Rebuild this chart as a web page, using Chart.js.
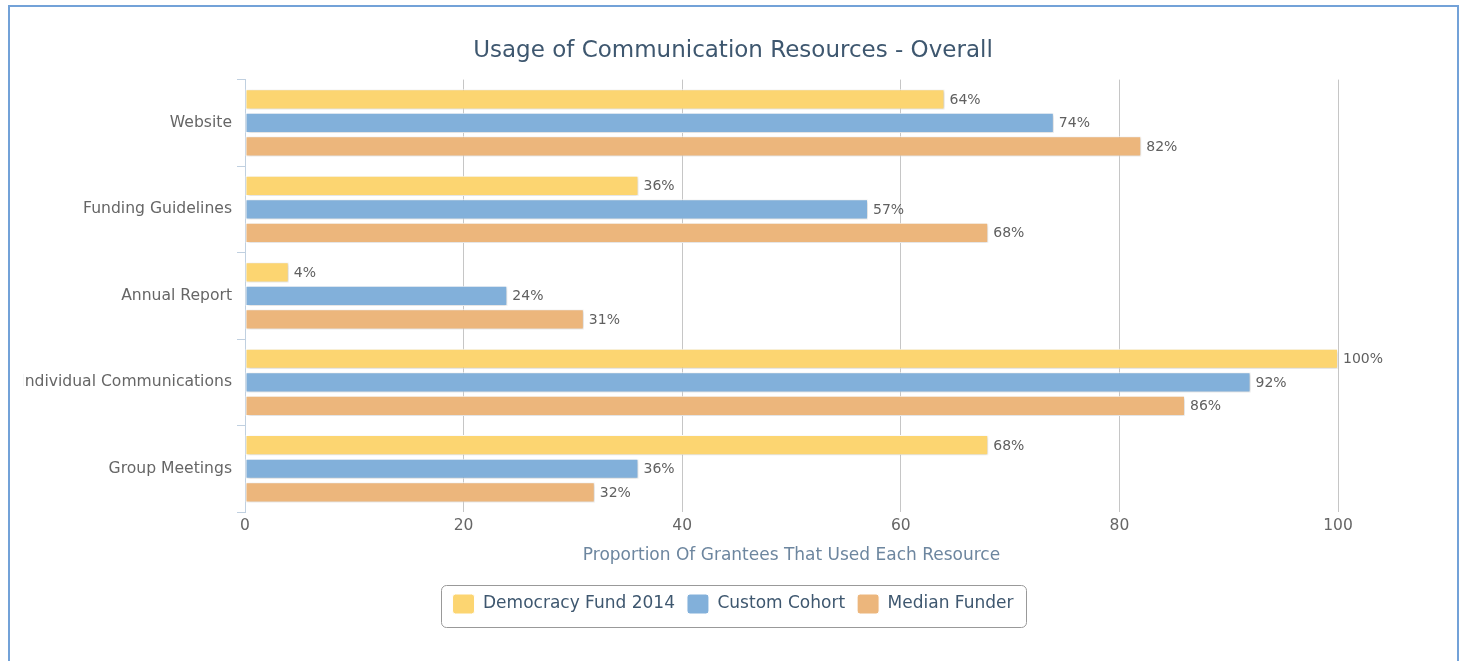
<!DOCTYPE html>
<html>
<head>
<meta charset="utf-8">
<script src="https://cdn.jsdelivr.net/npm/chart.js@4.4.1/dist/chart.umd.min.js"></script>
<style>
  html, body { margin: 0; padding: 0; background: #fff; }
  .frame {
    position: absolute; left: 8px; top: 5px; width: 1447px; height: 700px;
    border: 2px solid #73a2d8;
  }
  .wrap { position: absolute; left: 23px; top: 10px; width: 1420px; height: 624px; }
</style>
</head>
<body>
<div class="frame"></div>
<div class="wrap"><canvas id="chart"></canvas></div>
<script>
const categories = ['Website', 'Funding Guidelines', 'Annual Report', 'Individual Communications', 'Group Meetings'];
const seriesNames = ['Democracy Fund 2014', 'Custom Cohort', 'Median Funder'];
const democracyFund = [64, 36, 4, 100, 68];
const customCohort = [74, 57, 24, 92, 36];
const medianFunder = [82, 68, 31, 86, 32];
const xTicks = [0, 20, 40, 60, 80, 100];

const colors = ['#fcd571', '#82b0da', '#ecb67c'];
const FONT = "'DejaVu Sans', Verdana, sans-serif";

// highcharts-like soft shadow under bars, value labels, legend frame
const barExtras = {
  id: 'barExtras',
  beforeDatasetsDraw(chart) {
    const ctx = chart.ctx;
    ctx.save();
    ctx.shadowColor = 'rgba(0,0,0,0.22)';
    ctx.shadowBlur = 3;
    ctx.shadowOffsetX = 1;
    ctx.shadowOffsetY = 1;
  },
  afterDatasetsDraw(chart) {
    const ctx = chart.ctx;
    ctx.restore();
    ctx.save();
    ctx.font = '14px ' + FONT;
    ctx.fillStyle = '#606060';
    ctx.textAlign = 'left';
    ctx.textBaseline = 'middle';
    chart.data.datasets.forEach((ds, i) => {
      chart.getDatasetMeta(i).data.forEach((bar, j) => {
        ctx.fillText(ds.data[j] + '%', bar.x + 5, bar.y + 1);
      });
    });
    ctx.restore();
  },
  afterDraw(chart) {
    const boxes = chart.legend && chart.legend.legendHitBoxes;
    if (!boxes || !boxes.length) return;
    const first = boxes[0];
    const last = boxes[boxes.length - 1];
    const cy = first.top + first.height / 2;
    const ctx = chart.ctx;
    ctx.save();
    ctx.strokeStyle = '#999';
    ctx.lineWidth = 1;
    ctx.beginPath();
    ctx.roundRect(Math.round(first.left - 12) + 0.5, Math.round(cy - 19.5) + 0.5,
      Math.round(last.left + last.width - first.left + 24), 42, 5);
    ctx.stroke();
    ctx.restore();
  }
};

new Chart(document.getElementById('chart'), {
  type: 'bar',
  data: {
    labels: categories,
    datasets: [
      { label: seriesNames[0], data: democracyFund },
      { label: seriesNames[1], data: customCohort },
      { label: seriesNames[2], data: medianFunder },
    ].map((d, i) => ({
      ...d,
      backgroundColor: colors[i],
      borderColor: '#ffffff',
      borderWidth: 1,
      borderSkipped: false,
      categoryPercentage: 0.816,
      barPercentage: 0.86,
    })),
  },
  options: {
    indexAxis: 'y',
    responsive: true,
    maintainAspectRatio: false,
    animation: false,
    layout: { padding: { left: 0, right: 0, top: 0, bottom: 10 } },
    scales: {
      x: {
        min: 0,
        max: 100,
        afterBuildTicks: (axis) => { axis.ticks = xTicks.map((v) => ({ value: v })); },
        afterFit: (axis) => { axis.height = 70; },
        grid: {
          drawTicks: false,
          color: (c) => (c.tick && c.tick.value === 0 ? 'rgba(0,0,0,0)' : '#c6c6c6'),
        },
        border: { display: false },
        ticks: { color: '#666', padding: 5, font: { family: FONT, size: 15.5 } },
        title: {
          display: true,
          text: 'Proportion Of Grantees That Used Each Resource',
          color: '#6d869f',
          font: { family: FONT, size: 17 },
          padding: { top: 0, bottom: 16 },
        },
      },
      y: {
        offset: true,
        afterFit: (axis) => { axis.width = 222; },
        grid: {
          offset: true,
          drawOnChartArea: false,
          drawTicks: true,
          tickLength: 8,
          color: '#c0d0e0',
        },
        border: { display: true, color: '#c0d0e0' },
        ticks: { color: '#666', padding: 5, font: { family: FONT, size: 15.6 } },
      },
      // empty right-hand axis, keeps the plot narrower than the centred title/legend
      spacer: {
        type: 'category',
        position: 'right',
        afterFit: (axis) => { axis.width = 105; },
        grid: { display: false },
        border: { display: false },
        ticks: { display: false },
      },
    },
    plugins: {
      title: {
        display: true,
        text: 'Usage of Communication Resources - Overall',
        color: '#3e576f',
        font: { family: FONT, size: 23, weight: 'normal' },
        padding: { top: 27, bottom: 15 },
      },
      legend: {
        position: 'bottom',
        labels: {
          color: '#3e576f',
          font: { family: FONT, size: 17 },
          boxWidth: 22,
          boxHeight: 20,
          padding: 12,
          useBorderRadius: true,
          borderRadius: 3,
        },
      },
      tooltip: { enabled: false },
    },
  },
  plugins: [barExtras],
});
</script>
</body>
</html>
